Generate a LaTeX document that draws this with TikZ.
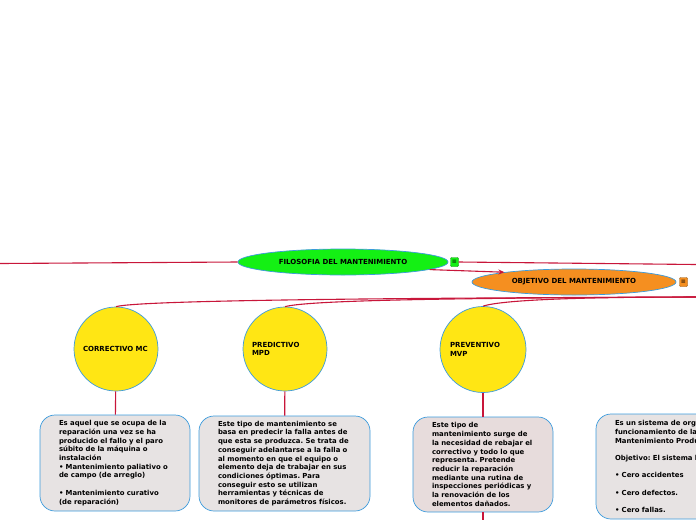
\documentclass[tikz,border=0pt]{standalone}
\usepackage{fontspec}
\setmainfont{DejaVu Sans}
\usepackage{tikz}
\usetikzlibrary{arrows.meta, shapes.geometric}
\definecolor{linkred}{HTML}{C8163A}
\definecolor{edgeblue}{HTML}{3C9BDC}
\definecolor{topgreen}{HTML}{14F014}
\definecolor{suborange}{HTML}{F58F20}
\definecolor{circyellow}{HTML}{FFE614}
\definecolor{boxgrey}{HTML}{E7E3E3}
\definecolor{boxpink}{HTML}{E7DCDC}
\frenchspacing

\begin{document}
\begin{tikzpicture}[x=1pt, y=-1pt, >={Stealth[length=6pt,width=5pt]},
  every node/.style={font=\fontsize{7}{8.7}\selectfont\bfseries, inner sep=0pt},
  link/.style={draw=linkred, line width=1.1pt},
  topic/.style={ellipse, draw=edgeblue, line width=0.7pt, minimum width=210pt, minimum height=26pt},
  ball/.style={circle, draw=edgeblue, line width=0.7pt, fill=circyellow, minimum size=84pt, text width=66pt, align=left},
  card/.style={rounded corners=15pt, draw=edgeblue, line width=0.7pt, fill=boxgrey, align=left, font=\fontsize{6.9}{8.7}\selectfont\bfseries},
  noteicon/.style={draw=#1!60!black, fill=#1, minimum width=8pt, minimum height=9pt, rounded corners=1pt, font=\fontsize{6}{6}\selectfont}]
  \useasboundingbox (0,0) rectangle (696,520);
  \clip (0,0) rectangle (696,520);

  % Nodes
  \node[topic, fill=topgreen] (filo) at (343,262) {FILOSOFIA DEL MANTENIMIENTO};
  \node[noteicon=topgreen] (filonote) at (454.5,262) {≡};
  \node[topic, fill=suborange, minimum width=204pt] (obj) at (574,282) {OBJETIVO DEL MANTENIMIENTO};
  \node[noteicon=suborange] (objnote) at (683.5,282) {≡};

  \node[ball] (corr) at (116,349) {CORRECTIVO MC};
  \node[ball] (pred) at (285,349) {PREDICTIVO\\MPD};
  \node[ball, minimum size=86pt] (prev) at (483,349.5) {PREVENTIVO\\MVP};

  \node[card, minimum width=150pt, minimum height=96pt, text width=112pt] (corrtext) at (115,463)
    {Es aquel que se ocupa de la\\reparación una vez se ha\\producido el fallo y el paro\\súbito de la máquina o\\instalación\\• Mantenimiento paliativo o\\de campo (de arreglo)\\[8.7pt]• Mantenimiento curativo\\(de reparación)};
  \node[card, minimum width=171pt, minimum height=95pt, text width=133pt] (predtext) at (284.5,463.5)
    {Este tipo de mantenimiento se\\basa en predecir la falla antes de\\que esta se produzca. Se trata de\\conseguir adelantarse a la falla o\\al momento en que el equipo o\\elemento deja de trabajar en sus\\condiciones óptimas. Para\\conseguir esto se utilizan\\herramientas y técnicas de\\monitores de parámetros físicos.};
  \node[card, fill=boxpink, minimum width=140pt, minimum height=95pt, text width=102pt] (prevtext) at (483,464.5)
    {Este tipo de\\mantenimiento surge de\\la necesidad de rebajar el\\correctivo y todo lo que\\representa. Pretende\\reducir la reparación\\mediante una rutina de\\inspecciones periódicas y\\la renovación de los\\elementos dañados.};
  \node[card, minimum width=170pt, minimum height=105pt, text width=132pt] (tpmtext) at (681,466.5)
    {Es un sistema de organización del\\funcionamiento de la empresa:\\Mantenimiento Productivo Total\\[8.7pt]Objetivo: El sistema busca\\[8.7pt]• Cero accidentes\\[8.7pt]• Cero defectos.\\[8.7pt]• Cero fallas.};

  \coordinate (farleft) at (0,263.5);
  \coordinate (farright) at (696,264.5);
  \coordinate (hub) at (696,297);
  \coordinate (prevend) at (483,520);

  % Arrows
  \draw[link] (farleft) -- (filo.west);
  \draw[link] (filonote.east) -- (farright);
  \draw[link, ->] (filo.-5) -- (obj.172);
  \draw[link] (hub) .. controls (400,298) and (140,300) .. (corr.north);
  \draw[link] (hub) .. controls (460,298) and (310,300) .. (pred.north);
  \draw[link] (hub) .. controls (600,297) and (505,299) .. (prev.north);
  \draw[link] (corr) -- (corrtext);
  \draw[link] (pred) -- (predtext);
  \draw[link] (prev) -- (prevtext);
  \draw[link] (prevtext) -- (prevend);
\end{tikzpicture}
\end{document}
